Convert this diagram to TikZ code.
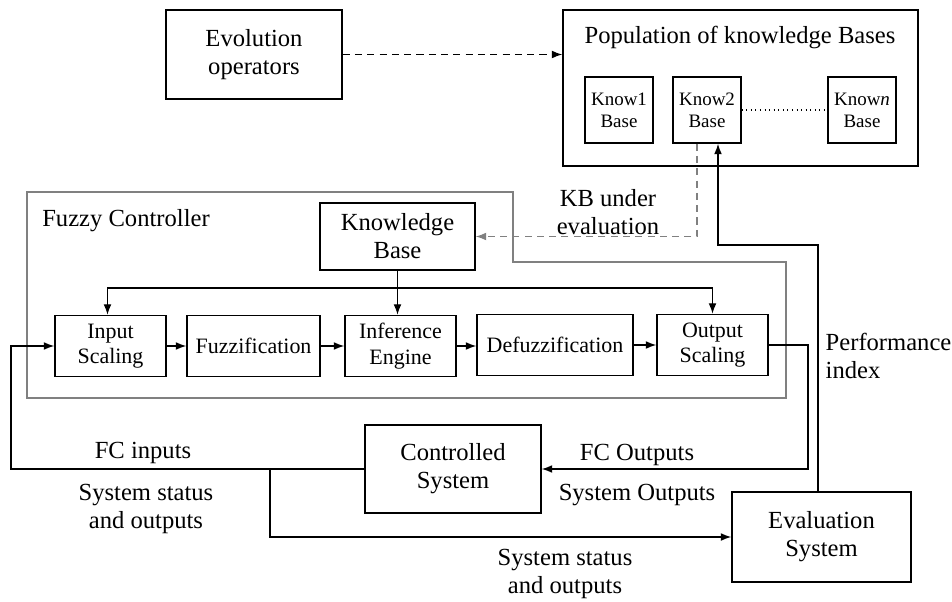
\documentclass[tikz,border=0pt]{standalone}
\usepackage{fontspec}
\setmainfont{Liberation Serif}
\usepackage{tikz}
\usetikzlibrary{arrows.meta,arrows}

\begin{document}
\begin{tikzpicture}[x=0.02cm,y=-0.02cm,line width=0.8pt,
    blk/.style={draw,align=center,inner sep=0pt,font=\fontsize{14}{16}\selectfont},
    rowblk/.style={draw,align=center,inner sep=0pt,minimum width=2.22cm,minimum height=1.22cm,font=\fontsize{12.5}{14.5}\selectfont},
    kbox/.style={draw,align=center,inner sep=0pt,minimum width=1.36cm,minimum height=1.32cm,font=\fontsize{10.8}{12.5}\selectfont},
    lbl/.style={align=center,inner sep=0pt,font=\fontsize{14}{16}\selectfont},
    arr/.style={-{Latex[length=6pt,width=4.5pt]}},
    dsh/.style={dash pattern=on 4pt off 3pt}]
      \useasboundingbox (0,0) rectangle (952,601);
      % top: operators and knowledge bases
      \node[blk,minimum width=3.52cm,minimum height=1.78cm] (evo) at (254,54.5) {Evolution\\operators};
      \node[blk,minimum width=7.1cm,minimum height=3.12cm] (pop) at (740.5,88) {};
      \node[lbl] (poptitle) at (740,37) {Population of knowledge Bases};
      \node[kbox] (know1) at (619,110) {Know1\\Base};
      \node[kbox] (know2) at (707,110) {Know2\\Base};
      \node[kbox] (known) at (862,110) {Know\textit{n}\\Base};
      \draw[dotted,line width=0.6pt] (know2.east) -- (known.west);
      %
      % Fuzzy controller frame
      \draw[gray] (27,192) -- (513,192) -- (513,262) -- (786,262) -- (786,398) -- (27,398) -- cycle;
      \node[lbl] (fctitle) at (126,221) {Fuzzy Controller};
      \node[blk,minimum width=3.1cm,minimum height=1.34cm] (kb) at (397.5,236.5) {Knowledge\\Base};
      \node[rowblk] (insc) at (110.5,346) {Input\\Scaling};
      \node[rowblk,minimum width=2.66cm] (fuzz) at (253.5,346) {Fuzzification};
      \node[rowblk] (inf) at (400.5,346) {Inference\\Engine};
      \node[rowblk,minimum width=3.12cm] (defuzz) at (555,345) {Defuzzification};
      \node[rowblk] (outsc) at (712.5,345) {Output\\Scaling};
      %
      % plant and evaluation
      \node[blk,minimum width=3.52cm,minimum height=1.76cm] (ctrl) at (453,469) {Controlled\\System};
      \node[blk,minimum width=3.58cm,minimum height=1.8cm] (eval) at (821.5,537) {Evaluation\\System};
      %
      % helper points
      \coordinate (bus) at (400,288);
      \coordinate (pi) at (718,245);
      \coordinate (fo) at (808,469);
      \coordinate (fi) at (11,469);
      \coordinate (br) at (270,469);
      %
      % Edges:
      \draw[dsh,arr] (evo.east) -- (evo.east -| pop.west);
      \draw[gray,dsh,arr] ([xshift=-0.2cm]know2.south) |- (kb.east);
      \draw[arr] ([xshift=-0.07cm]eval.north) |- (pi) -- (pi |- know2.south);
      \draw[arr] (kb.south) -- (kb.south |- inf.north);
      \draw[arr] (bus) -| ([xshift=-0.06cm]insc.north);
      \draw[arr] (bus) -| (outsc.north);
      \draw[arr] (insc) -- (fuzz);
      \draw[arr] (fuzz) -- (inf);
      \draw[arr] (inf) -- (defuzz.west |- inf);
      \draw[arr] (defuzz) -- (outsc);
      \draw[arr] (outsc.east) -| (fo) -- (ctrl.east);
      \draw[arr] (ctrl.west) -- (fi) |- (insc.west);
      \draw[arr] (br) |- (eval.west);
      %
      % labels
      \node[lbl] (kbeval) at (608,212) {KB under\\evaluation};
      \node[lbl,anchor=west,align=left] (perf) at (825,356) {Performance\\index};
      \node[lbl] (fcin) at (143,453) {FC inputs};
      \node[lbl] (stat1) at (146,509) {System status\\and outputs};
      \node[lbl] (fcout) at (637,455) {FC Outputs};
      \node[lbl] (sysout) at (637,495) {System Outputs};
      \node[lbl] (stat2) at (565,574) {System status\\and outputs};
\end{tikzpicture}
\end{document}
